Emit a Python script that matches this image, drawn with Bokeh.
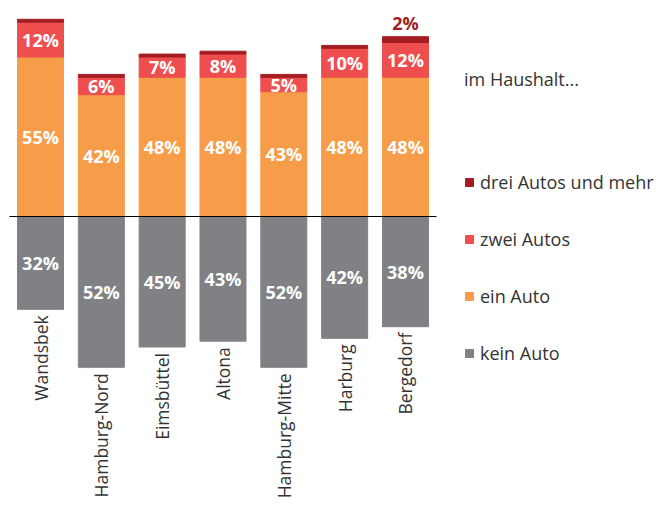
import math
from bokeh.plotting import figure
from bokeh.models import ColumnDataSource, Range1d, Legend, LegendItem
from bokeh.core.properties import value
from bokeh.embed import file_html
from bokeh.resources import INLINE

# ---- data ----
districts = ["Wandsbek", "Hamburg-Nord", "Eimsbüttel", "Altona", "Hamburg-Mitte", "Harburg", "Bergedorf"]
kein_auto = [32, 52, 45, 43, 52, 42, 38]
ein_auto = [55, 42, 48, 48, 43, 48, 48]
zwei_autos = [12, 6, 7, 8, 5, 10, 12]
drei_autos = [1, 1, 1, 1, 1, 1, 2]
legend_title = "im Haushalt..."
series_names = ["drei Autos und mehr", "zwei Autos", "ein Auto", "kein Auto"]

# ---- style ----
C_DREI = "#A31D22"
C_ZWEI = "#EF4E4F"
C_EIN = "#F79D4A"
C_KEIN = "#7F8184"
FONT = "Open Sans"
TEXT_COL = "#333333"

W, H = 655, 502
PX_X = 60.83
PX_Y = 2.90
BASE_Y = 216     # baseline position from frame top, px
FIRST_X = 40     # first bar centre from frame left, px

x = list(range(len(districts)))
src = ColumnDataSource(dict(
    x=x, district=districts,
    kein=kein_auto, ein=ein_auto, zwei=zwei_autos, drei=drei_autos,
    neg=[-v for v in kein_auto],
    ein_top=ein_auto,
    zwei_top=[a + b for a, b in zip(ein_auto, zwei_autos)],
    drei_top=[a + b + c for a, b, c in zip(ein_auto, zwei_autos, drei_autos)],
    kein_mid=[-v / 2 for v in kein_auto],
    ein_mid=[v / 2 for v in ein_auto],
    zwei_mid=[a + b / 2 for a, b in zip(ein_auto, zwei_autos)],
    kein_lbl=[f"{v}%" for v in kein_auto],
    ein_lbl=[f"{v}%" for v in ein_auto],
    zwei_lbl=[f"{v}%" for v in zwei_autos],
    name_y=[-v - 6 / PX_Y for v in kein_auto],
))

x0 = -FIRST_X / PX_X
p = figure(width=W, height=H, output_backend="svg", toolbar_location=None,
           x_range=Range1d(x0, x0 + W / PX_X),
           y_range=Range1d(-(H - BASE_Y) / PX_Y, BASE_Y / PX_Y),
           min_border=0, outline_line_color=None)
p.axis.visible = False
p.grid.visible = False
p.background_fill_color = "white"
p.border_fill_color = "white"

BW = 46 / PX_X
r_kein = p.vbar(x="x", top=0, bottom="neg", width=BW, color=C_KEIN, source=src)
r_ein = p.vbar(x="x", bottom=0, top="ein_top", width=BW, color=C_EIN, source=src)
r_zwei = p.vbar(x="x", bottom="ein_top", top="zwei_top", width=BW, color=C_ZWEI, source=src)
r_drei = p.vbar(x="x", bottom="zwei_top", top="drei_top", width=BW, color=C_DREI, source=src)

# baseline
p.segment(x0=[x[0] - 0.51], x1=[x[-1] + 0.51], y0=[0], y1=[0], line_color="black", line_width=1)

lbl_kw = dict(text_font=value(FONT), text_font_size="18px", text_font_style="bold",
              text_align="center", text_baseline="middle", text_color="white")
p.text(x="x", y="kein_mid", text="kein_lbl", source=src, **lbl_kw)
p.text(x="x", y="ein_mid", text="ein_lbl", source=src, **lbl_kw)
p.text(x="x", y="zwei_mid", text="zwei_lbl", source=src, **lbl_kw)

# drei labels only where large enough (above bar)
dx = [xi for xi, d in zip(x, drei_autos) if d >= 2]
dy = [t + 2 / PX_Y for t, d in zip(src.data["drei_top"], drei_autos) if d >= 2]
dt = [f"{d}%" for d in drei_autos if d >= 2]
p.text(x=dx, y=dy, text=dt, text_font=value(FONT), text_font_size="18px", text_font_style="bold",
       text_align="center", text_baseline="bottom", text_color=C_DREI)

# district names (vertical)
p.text(x="x", y="name_y", text="district", source=src, angle=math.pi / 2,
       text_font=value(FONT), text_font_size="17.5px", text_align="right",
       text_baseline="middle", text_color=TEXT_COL)

legend = Legend(
    items=[LegendItem(label=series_names[0], renderers=[r_drei]),
           LegendItem(label=series_names[1], renderers=[r_zwei]),
           LegendItem(label=series_names[2], renderers=[r_ein]),
           LegendItem(label=series_names[3], renderers=[r_kein])],
    title=legend_title,
    location=(464, 136),
    padding=0, margin=0, border_line_color=None, background_fill_alpha=0,
    glyph_width=10, glyph_height=10, label_height=27, spacing=30, label_standoff=6,
    title_standoff=77,
    label_text_font=FONT, label_text_font_size="18px", label_text_color=TEXT_COL,
    title_text_font=FONT, title_text_font_size="18px", title_text_font_style="normal",
    title_text_color=TEXT_COL,
)
p.add_layout(legend)

open("out.html", "w").write(file_html(p, INLINE))
